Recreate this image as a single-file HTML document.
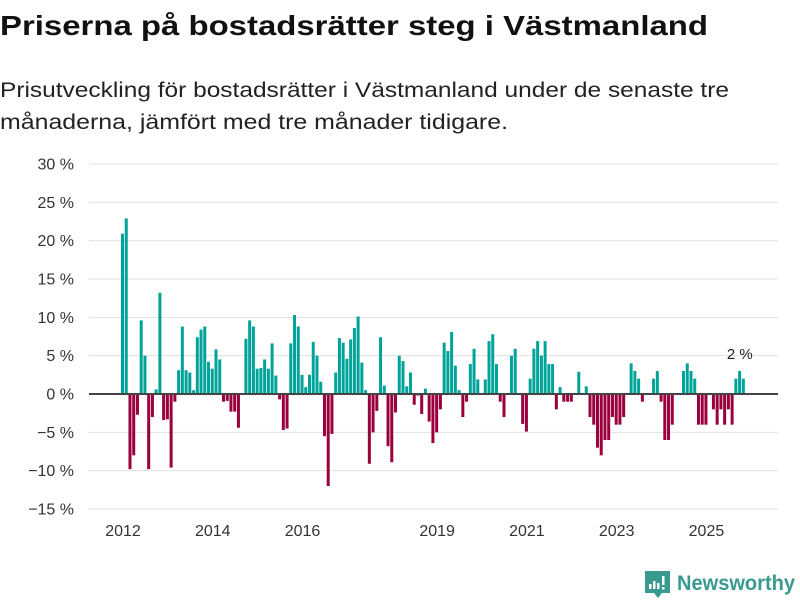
<!DOCTYPE html>
<html><head><meta charset="utf-8"><style>
html,body{margin:0;padding:0;background:#fff;}
svg{display:block;font-family:"Liberation Sans",sans-serif;}
</style></head><body>
<svg width="800" height="600" viewBox="0 0 800 600">
<text x="0" y="35" font-size="28" font-weight="bold" fill="#111" textLength="708" lengthAdjust="spacingAndGlyphs">Priserna på bostadsrätter steg i Västmanland</text>
<text x="0" y="97" font-size="21" fill="#222" textLength="729" lengthAdjust="spacingAndGlyphs">Prisutveckling för bostadsrätter i Västmanland under de senaste tre</text>
<text x="0" y="129" font-size="21" fill="#222" textLength="508" lengthAdjust="spacingAndGlyphs">månaderna, jämfört med tre månader tidigare.</text>
<g id="grid"></g>
<g id="ylab"></g>
<g id="bars"></g>
<line x1="89" x2="778" y1="394" y2="394" stroke="#444" stroke-width="2"/>
<g id="xlab"></g>
<text id="lastlab" font-size="15" fill="#222" text-anchor="middle">2 %</text>
<g>
<path d="M645 571 h25 v22 h-8 l-4 5 l-4 -5 h-9 z" fill="#3a9a8f"/>
<rect x="649" y="584" width="2.5" height="5" fill="#fff"/><rect x="653" y="581" width="2.5" height="8" fill="#fff"/><rect x="657" y="583" width="2.5" height="6" fill="#fff"/><rect x="662" y="576" width="2.5" height="9" fill="#fff"/><rect x="662" y="587" width="2.5" height="2.5" fill="#fff"/>
<text x="677" y="590" font-size="21" font-weight="bold" fill="#3a9a8f" textLength="118" lengthAdjust="spacingAndGlyphs">Newsworthy</text>
</g>
</svg>
<script>
const values = [20.9,22.9,-9.8,-8,-2.7,9.6,5,-9.8,-3,0.6,13.2,-3.4,-3.3,-9.6,-1,3.1,8.8,3.1,2.8,0.5,7.4,8.4,8.8,4.2,3.3,5.8,4.5,-1,-0.9,-2.3,-2.3,-4.4,0,7.2,9.6,8.8,3.3,3.4,4.5,3.3,6.6,2.4,-0.7,-4.7,-4.5,6.6,10.3,8.8,2.5,0.9,2.5,6.8,5,1.6,-5.5,-12,-5.2,2.8,7.3,6.7,4.6,7.1,8.6,10.1,4.1,0.5,-9.1,-5,-2.2,7.4,1.1,-6.8,-8.9,-2.4,5,4.3,1,2.8,-1.4,-0.2,-2.6,0.7,-3.6,-6.4,-5,-2,6.7,5.6,8.1,3.7,0.5,-3,-1,3.9,5.9,1.9,0,1.9,6.9,7.8,3.9,-1,-3,0,5,5.9,0,-3.9,-4.9,2,5.9,6.9,5,6.9,3.9,3.9,-2,0.9,-1,-1,-1,0,2.9,0,1,-3,-4,-7,-8,-6,-6,-3,-4,-4,-3,0,4,3,2,-1,0,0,2,3,-1,-6,-6,-4,0,0,3,4,3,2,-4,-4,-4,0,-2,-4,-2,-4,-2,-4,2,3,2];
const yTicks = [30,25,20,15,10,5,0,-5,-10,-15];
const xYears = [2012,2014,2016,2019,2021,2023,2025];
const startYear = 2012;
const NS='http://www.w3.org/2000/svg';
function y(v){return 394 - v*7.667;}
function x(i){return 121 + i*3.74;}
const grid=document.getElementById('grid'), ylab=document.getElementById('ylab'), bars=document.getElementById('bars'), xlab=document.getElementById('xlab');
yTicks.forEach(t=>{
  const l=document.createElementNS(NS,'line');
  
  
  l.setAttribute('x1',89);l.setAttribute('x2',778);l.setAttribute('y1',y(t));l.setAttribute('y2',y(t));
  l.setAttribute('stroke','#e0e0e0');l.setAttribute('stroke-width','1');
  grid.appendChild(l);
  const tx=document.createElementNS(NS,'text');
  
  
  tx.setAttribute('x',74);tx.setAttribute('y',y(t)+5.5);tx.setAttribute('text-anchor','end');
  tx.setAttribute('font-size','16');tx.setAttribute('fill','#333');
  tx.textContent=(t<0?'\u2212'+(-t):t)+' %';
  ylab.appendChild(tx);
});
values.forEach((v,i)=>{
  const r=document.createElementNS(NS,'rect');
  
  
  r.setAttribute('x',x(i));r.setAttribute('width',3);
  r.setAttribute('y',Math.min(y(v),y(0)));r.setAttribute('height',Math.abs(y(v)-y(0)));
  r.setAttribute('fill',v>=0?'#00a39a':'#99003d');
  bars.appendChild(r);
});
xYears.forEach(yr=>{
  const tx=document.createElementNS(NS,'text');
  
  
  tx.setAttribute('x',x((yr-startYear)*12)+2);tx.setAttribute('y',536);tx.setAttribute('text-anchor','middle');
  tx.setAttribute('font-size','16');tx.setAttribute('fill','#333');
  tx.textContent=yr;
  xlab.appendChild(tx);
});
const last=values.length-1, ll=document.getElementById('lastlab');
ll.setAttribute('x',x(last)-2);ll.setAttribute('y',y(Math.max(values[last],values[last-1]))-12);
ll.textContent=Math.round(values[last])+' %';
</script>
</body></html>
